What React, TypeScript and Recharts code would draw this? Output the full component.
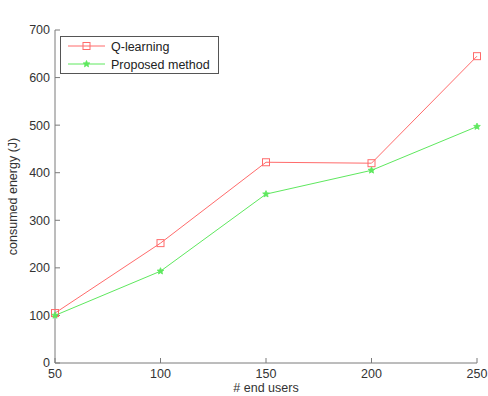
import React from 'react';
import { LineChart, Line, XAxis, YAxis } from 'recharts';

const users = [50, 100, 150, 200, 250];
const qLearning = [105, 252, 422, 420, 645];
const proposed = [100, 193, 355, 405, 497];
const xTicks = [50, 100, 150, 200, 250];
const yTicks = [0, 100, 200, 300, 400, 500, 600, 700];

const data = users.map((u, i) => ({ users: u, q: qLearning[i], p: proposed[i] }));

const RED = '#ff6b6b';
const GREEN = '#5ee85e';
const AXIS = '#7a7a7a';
const TEXT = '#333';
const FONT = '"Liberation Sans", Arial, sans-serif';

const SquareDot = (props: any) => {
  const { cx, cy } = props;
  if (cx == null || cy == null) return null;
  return <rect x={cx - 3.5} y={cy - 3.5} width={7} height={7} fill="none" stroke={RED} strokeWidth={1} />;
};

const starPath = (cx: number, cy: number, r: number) => {
  const pts: string[] = [];
  for (let i = 0; i < 10; i++) {
    const rr = i % 2 === 0 ? r : r * 0.45;
    const a = -Math.PI / 2 + (i * Math.PI) / 5;
    pts.push(`${cx + rr * Math.cos(a)},${cy + rr * Math.sin(a)}`);
  }
  return 'M' + pts.join('L') + 'Z';
};

const StarDot = (props: any) => {
  const { cx, cy } = props;
  if (cx == null || cy == null) return null;
  return <path d={starPath(cx, cy, 3.5)} fill={GREEN} stroke={GREEN} strokeWidth={0.8} />;
};

const LegendBox = () => (
  <div
    style={{
      position: 'absolute',
      left: 60,
      top: 36,
      width: 159,
      height: 38,
      border: '1.5px solid #555',
      background: '#fff',
      boxSizing: 'border-box',
    }}
  >
    <svg width={157} height={36} style={{ position: 'absolute', left: 0, top: 0 }}>
      <line x1={7} x2={44} y1={9} y2={9} stroke={RED} />
      <SquareDot cx={25.5} cy={9} />
      <line x1={7} x2={44} y1={27} y2={27} stroke={GREEN} />
      <StarDot cx={25.5} cy={27} />
      <text x={50} y={13.5} fontSize={12.5} fill="#222" fontFamily={FONT}>Q-learning</text>
      <text x={50} y={31.5} fontSize={12.5} fill="#222" fontFamily={FONT}>Proposed method</text>
    </svg>
  </div>
);

export default function App() {
  return (
    <div style={{ position: 'absolute', left: 0, top: 0, width: 488, height: 396, background: '#fff' }}>
      <LineChart width={488} height={396} data={data} margin={{ top: 30, right: 11, bottom: 0, left: 0 }}>
        <XAxis
          dataKey="users"
          type="number"
          domain={[50, 250]}
          ticks={xTicks}
          height={33}
          stroke={AXIS}
          tickSize={-5}
          tickMargin={11}
          tick={{ fill: TEXT, fontSize: 12.5, fontFamily: FONT }}
          label={{ value: '# end users', position: 'insideBottom', offset: 4, fill: TEXT, fontSize: 12.5, fontFamily: FONT }}
        />
        <XAxis
          xAxisId="top"
          dataKey="users"
          type="number"
          domain={[50, 250]}
          ticks={xTicks}
          orientation="top"
          height={0}
          stroke={AXIS}
          tickSize={-5}
          tick={false}
          label={{ value: 'Total Energy consumption in each method', position: 'top', offset: 8, fill: TEXT, fontSize: 12.5, fontFamily: FONT }}
        />
        <YAxis
          type="number"
          domain={[0, 700]}
          ticks={yTicks}
          width={55}
          stroke={AXIS}
          tickSize={-5}
          tickMargin={10}
          interval={0}
          tick={{ fill: TEXT, fontSize: 12.5, fontFamily: FONT }}
          label={{ value: 'consumed energy (J)', angle: -90, position: 'insideLeft', offset: 13, fill: TEXT, fontSize: 12.5, fontFamily: FONT, style: { textAnchor: 'middle' } }}
        />
        <YAxis
          yAxisId="right"
          type="number"
          domain={[0, 700]}
          ticks={yTicks}
          orientation="right"
          width={0}
          stroke={AXIS}
          tickSize={-5}
          tick={false}
        />
        <Line dataKey="q" name="Q-learning" stroke={RED} strokeWidth={1} dot={<SquareDot />} activeDot={false} isAnimationActive={false} />
        <Line dataKey="p" name="Proposed method" stroke={GREEN} strokeWidth={1} dot={<StarDot />} activeDot={false} isAnimationActive={false} />
      </LineChart>
      <LegendBox />
    </div>
  );
}
